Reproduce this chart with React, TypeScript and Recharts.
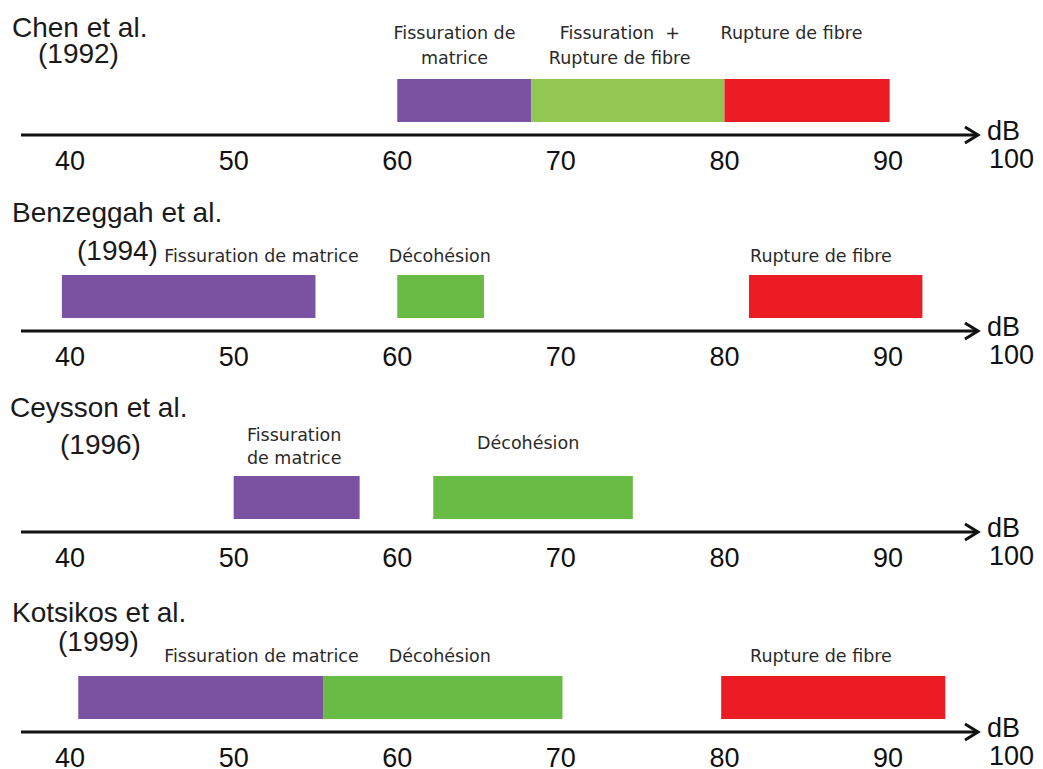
import React from 'react';
import { BarChart, Bar, XAxis, YAxis, ReferenceDot } from 'recharts';

// dB ticks shown under every axis (100 is drawn beside the arrow, under "dB")
const ticks = [40, 50, 60, 70, 80, 90];

// damage mechanisms and their colours
const mechanisms = ['matrix', 'mixed', 'debond', 'fibre'];
const mechanismColors: Record<string, string> = {
  matrix: '#7a52a1',
  mixed: '#92c852',
  debond: '#68bc45',
  fibre: '#ec1c24',
};

const studies = ['Chen et al.', 'Benzeggah et al.', 'Ceysson et al.', 'Kotsikos et al.'];
const years = ['(1992)', '(1994)', '(1996)', '(1999)'];

// amplitude ranges in dB
const chenRanges = { matrix: [60, 68.2], mixed: [68.2, 80], fibre: [80, 90.1] };
const benzeggahRanges = { matrix: [39.5, 55], debond: [60, 65.3], fibre: [81.5, 92.1] };
const ceyssonRanges = { matrix: [50, 57.7], debond: [62.2, 74.4] };
const kotsikosRanges = { matrix: [40.5, 55.5], debond: [55.5, 70.1], fibre: [79.8, 93.5] };

// label text and where (in dB) it is centred
const chenLabels = [
  { at: 63.5, lines: ['Fissuration de', 'matrice'] },
  { at: 73.6, lines: ['Fissuration  +', 'Rupture de fibre'] },
  { at: 84.1, lines: ['Rupture de fibre'] },
];
const benzeggahLabels = [
  { at: 51.7, lines: ['Fissuration de matrice'] },
  { at: 62.6, lines: ['Décohésion'] },
  { at: 85.9, lines: ['Rupture de fibre'] },
];
const ceyssonLabels = [
  { at: 53.7, lines: ['Fissuration', 'de matrice'] },
  { at: 68, lines: ['Décohésion'] },
];
const kotsikosLabels = [
  { at: 51.7, lines: ['Fissuration de matrice'] },
  { at: 62.6, lines: ['Décohésion'] },
  { at: 85.9, lines: ['Rupture de fibre'] },
];

const panels = [
  { ranges: chenRanges, labels: chenLabels, top: 2, lineY: [-62, -37], oneLineY: -62 },
  { ranges: benzeggahRanges, labels: benzeggahLabels, top: 198, lineY: [-35], oneLineY: -35 },
  { ranges: ceyssonRanges, labels: ceyssonLabels, top: 399, lineY: [-57, -34], oneLineY: -49 },
  { ranges: kotsikosRanges, labels: kotsikosLabels, top: 599, lineY: [-36], oneLineY: -36 },
];

const titlePos = [
  { x: 12, y: 37, yx: 38, yy: 63 },
  { x: 12, y: 222, yx: 77, yy: 260 },
  { x: 10, y: 417, yx: 60, yy: 454 },
  { x: 12, y: 622, yx: 58, yy: 651 },
];

const bigFont = '"Liberation Sans", Arial, sans-serif';
const smallFont = '"DejaVu Sans", sans-serif';

const AxisEnd = (props: any) => {
  const vb = props.viewBox || {};
  const x = vb.x + vb.width + 9;
  const y = vb.y;
  return (
    <g fontFamily={bigFont} fontSize={27} fill="#111">
      <text x={x} y={y + 5}>dB</text>
      <text x={x + 2} y={y + 33}>100</text>
    </g>
  );
};

const Panel = ({ idx }: { idx: number }) => {
  const p = panels[idx];
  const row: any = { name: 'row' };
  const keys = mechanisms.filter((m) => (p.ranges as any)[m]);
  keys.forEach((k) => (row[k] = (p.ranges as any)[k]));
  const markerId = `arrow-${idx}`;
  return (
    <div style={{ position: 'absolute', left: 0, top: p.top }}>
      <BarChart
        width={1043}
        height={200}
        data={[row]}
        layout="vertical"
        margin={{ top: 64, right: 65, bottom: 17, left: 21 }}
        barGap={-43}
      >
        <defs>
          <marker id={markerId} markerWidth={20} markerHeight={20} refX={17} refY={10} orient="auto" markerUnits="userSpaceOnUse">
            <path d="M4,2 L17,10 L4,18" fill="none" stroke="#111" strokeWidth={3} />
          </marker>
        </defs>
        <XAxis
          type="number"
          domain={[37, 95.5]}
          ticks={ticks}
          tickLine={false}
          axisLine={{ stroke: '#111', strokeWidth: 3, markerEnd: `url(#${markerId})` } as any}
          tick={{ fontSize: 27, fill: '#111', fontFamily: bigFont }}
          tickMargin={10}
          height={50}
          interval={0}
          label={<AxisEnd />}
        />
        <YAxis type="category" dataKey="name" hide />
        {keys.map((k) => (
          <Bar key={k} dataKey={k} fill={mechanismColors[k]} barSize={43} isAnimationActive={false} />
        ))}
        {p.labels.map((l, i) => (
          <ReferenceDot
            key={i}
            x={l.at}
            y="row"
            r={0}
            fill="none"
            stroke="none"
            label={(lp: any) => {
              const vb = lp.viewBox || {};
              const cx = vb.x + (vb.width || 0) / 2;
              const cy = vb.y + (vb.height || 0) / 2;
              return (
                <g fontFamily={smallFont} fontSize={17.5} fill="#2a2a2a" textAnchor="middle">
                  {l.lines.map((t, j) => (
                    <text key={j} x={cx} y={cy + (l.lines.length > 1 ? p.lineY[j] : p.oneLineY)} style={{ whiteSpace: 'pre' }}>
                      {t}
                    </text>
                  ))}
                </g>
              );
            }}
          />
        ))}
      </BarChart>
    </div>
  );
};

export default function App() {
  return (
    <div style={{ position: 'absolute', left: 0, top: 0, width: 1043, height: 769, background: '#fff', overflow: 'hidden' }}>
      {panels.map((_, i) => (
        <Panel key={i} idx={i} />
      ))}
      <svg width={1043} height={769} style={{ position: 'absolute', left: 0, top: 0, pointerEvents: 'none' }}>
        {studies.map((s, i) => (
          <g key={s} fontFamily={bigFont} fontSize={28} fill="#1a1a1a">
            <text x={titlePos[i].x} y={titlePos[i].y}>{s}</text>
            <text x={titlePos[i].yx} y={titlePos[i].yy}>{years[i]}</text>
          </g>
        ))}
      </svg>
    </div>
  );
}
